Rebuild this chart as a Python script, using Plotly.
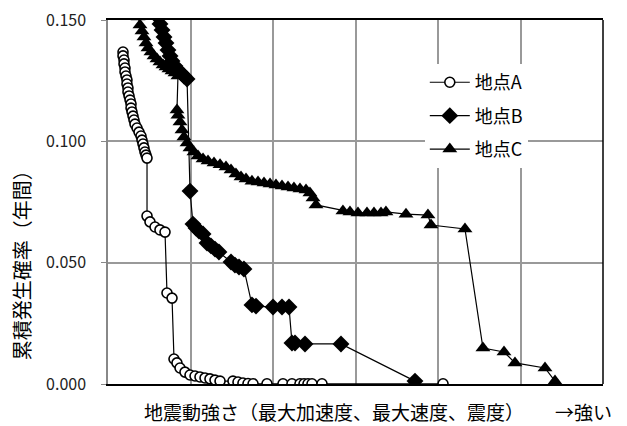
import plotly.graph_objects as go

# ---- data (x: ground-motion intensity in arbitrary units 0..600, y: annual cumulative probability)
a_x = [18.2, 18.2, 19.4, 19.4, 20.6, 20.6, 21.8, 23.0, 23.0, 24.2, 24.2, 25.5, 26.7, 27.9, 27.9,
       29.1, 30.3, 31.5, 32.7, 35.2, 37.6, 40.0, 41.2, 42.4, 43.6, 44.8, 46.1, 47.3,
       47.3, 50.9, 57.0, 63.0, 69.1, 71.5, 77.6, 80.0, 83.6, 87.3, 93.3, 99.4, 105.5, 111.5,
       117.6, 123.6, 129.7, 135.8, 151.5, 157.6, 163.6, 169.7, 175.8, 192.7, 212.1, 223.0,
       232.7, 237.6, 242.4, 247.3, 259.4, 406.1]
a_y = [0.1368, 0.1352, 0.1335, 0.1319, 0.1302, 0.1286, 0.1269, 0.1253, 0.1236, 0.1220, 0.1203,
       0.1187, 0.1170, 0.1154, 0.1137, 0.1121, 0.1104, 0.1088, 0.1071, 0.1055, 0.1038, 0.1022,
       0.1005, 0.0989, 0.0973, 0.0956, 0.0943, 0.0931,
       0.0692, 0.0668, 0.0647, 0.0635, 0.0626, 0.0375, 0.0354, 0.0103, 0.0087, 0.0066, 0.0049,
       0.0037, 0.0033, 0.0029, 0.0025, 0.0021, 0.0016, 0.0012, 0.0012, 0.0008, 0.0004, 0.0002,
       0.0001, 0.0001, 0.0001, 0.0001, 0.0001, 0.0001, 0.0001, 0.0001, 0.0001, 0.0001]

b_x = [60.6, 63.0, 65.5, 67.9, 70.3, 72.7, 75.2, 77.6, 81.2, 84.8, 88.5, 92.1, 95.8,
       99.4, 103.0, 106.7, 110.3, 115.2, 120.0, 124.8, 129.7, 134.5, 149.1, 153.9, 158.8, 164.8,
       174.5, 179.4, 200.0, 210.9, 219.4, 223.0, 226.7, 238.8, 282.4, 372.1]
b_y = [0.1512, 0.1484, 0.1459, 0.1430, 0.1405, 0.1376, 0.1352, 0.1331, 0.1310, 0.1294, 0.1282,
       0.1269, 0.1257, 0.0795, 0.0659, 0.0643, 0.0630, 0.0618, 0.0581, 0.0569, 0.0556, 0.0544,
       0.0503, 0.0490, 0.0482, 0.0474, 0.0326, 0.0321, 0.0317, 0.0317, 0.0317, 0.0169, 0.0169,
       0.0165, 0.0165, 0.0012]

c_x = [36.4, 38.8, 41.2, 43.6, 46.1, 48.5, 52.1, 55.8, 59.4, 63.0, 66.7, 70.3, 73.9, 77.6, 81.2,
       84.8, 83.6, 84.8, 87.3, 89.7, 92.1, 95.8, 99.4, 104.2, 109.1, 115.2, 121.2, 128.5, 135.8,
       143.0, 149.1, 155.1, 161.2, 167.3, 174.5, 181.8, 189.1, 196.4, 203.6, 210.9, 218.2, 225.4,
       232.7, 240.0, 244.8, 248.5, 252.1, 284.8, 293.3, 303.0, 313.9, 322.4, 330.9, 336.9, 361.2,
       387.8, 391.5, 432.7, 454.5, 480.0, 493.3, 529.7, 541.8]
c_y = [0.1512, 0.1479, 0.1455, 0.1430, 0.1405, 0.1385, 0.1368, 0.1352, 0.1339, 0.1327, 0.1315,
       0.1306, 0.1298, 0.1290, 0.1282, 0.1269, 0.1129, 0.1108, 0.1080, 0.1047, 0.1018, 0.0993,
       0.0973, 0.0956, 0.0940, 0.0927, 0.0919, 0.0911, 0.0903, 0.0894, 0.0882, 0.0865, 0.0853,
       0.0845, 0.0836, 0.0832, 0.0828, 0.0824, 0.0820, 0.0816, 0.0812, 0.0808, 0.0804, 0.0799,
       0.0787, 0.0766, 0.0738, 0.0713, 0.0709, 0.0705, 0.0705, 0.0705, 0.0705, 0.0709, 0.0700,
       0.0696, 0.0655, 0.0639, 0.0148, 0.0132, 0.0087, 0.0066, 0.0012]

series_names = ["地点A", "地点B", "地点C"]
y_ticks = [0.0, 0.05, 0.10, 0.15]
y_title = "累積発生確率（年間）"
x_title = "地震動強さ（最大加速度、最大速度、震度）"
x_arrow = "→強い"

FONT = "Noto Sans CJK JP"

fig = go.Figure()
fig.add_trace(go.Scatter(x=a_x, y=a_y, name=series_names[0], mode="lines+markers",
                         line=dict(color="black", width=1.2),
                         marker=dict(symbol="circle", size=10, color="white",
                                     line=dict(color="black", width=1.6)),
                         legendgroup="a"))
fig.add_trace(go.Scatter(x=b_x, y=b_y, name=series_names[1], mode="lines+markers",
                         line=dict(color="black", width=1.2),
                         marker=dict(symbol="diamond", size=13, color="black"),
                         legendgroup="b"))
fig.add_trace(go.Scatter(x=c_x, y=c_y, name=series_names[2], mode="lines+markers",
                         line=dict(color="black", width=1.2),
                         marker=dict(symbol="triangle-up", size=13, color="black"),
                         legendgroup="c"))

# page body has an 8px margin, so the figure is drawn 8px smaller and offset
fig.update_layout(
    width=619, height=418,
    margin=dict(l=100, r=24, t=12, b=42, autoexpand=False),
    paper_bgcolor="white", plot_bgcolor="white",
    font=dict(family=FONT, color="black", size=15),
    showlegend=True,
    legend=dict(x=0.64, y=0.879, xanchor="left", yanchor="top",
                bgcolor="white", borderwidth=0, font=dict(size=18, family=FONT),
                itemwidth=40, tracegroupgap=7, traceorder="grouped"),
    xaxis=dict(range=[0, 600], dtick=100, showticklabels=False, showgrid=True,
               gridcolor="#999999", gridwidth=1.5, zeroline=False, automargin=False,
               showline=True, linecolor="black", linewidth=1.5, mirror=True, ticks=""),
    yaxis=dict(range=[0, 0.15], tickvals=y_ticks, tickformat=".3f", showgrid=True,
               gridcolor="#999999", gridwidth=1.5, zeroline=False, automargin=False,
               showline=True, linecolor="#888888", linewidth=1.5,
               ticks="outside", ticklen=5, tickcolor="#888888", ticklabeloverflow="allow",
               ticklabelstandoff=12, tickfont=dict(size=16, color="#222222")),
    shapes=[dict(type="line", xref="paper", yref="paper", x0=1, x1=1, y0=0, y1=1,
                 line=dict(color="black", width=1.5))],
    annotations=[
        dict(text=y_title, xref="paper", yref="paper", x=(21 - 108) / 495, y=0.34,
             xanchor="center", yanchor="middle", textangle=-90, showarrow=False,
             font=dict(size=20, family=FONT)),
        dict(text=x_title, xref="paper", yref="paper", x=(142 - 108) / 495, y=-0.075,
             xanchor="left", yanchor="middle", showarrow=False,
             font=dict(size=19, family=FONT)),
        dict(text=x_arrow, xref="paper", yref="paper", x=(553 - 108) / 495, y=-0.075,
             xanchor="left", yanchor="middle", showarrow=False,
             font=dict(size=19, family=FONT)),
    ],
)

fig.write_html("out.html")
